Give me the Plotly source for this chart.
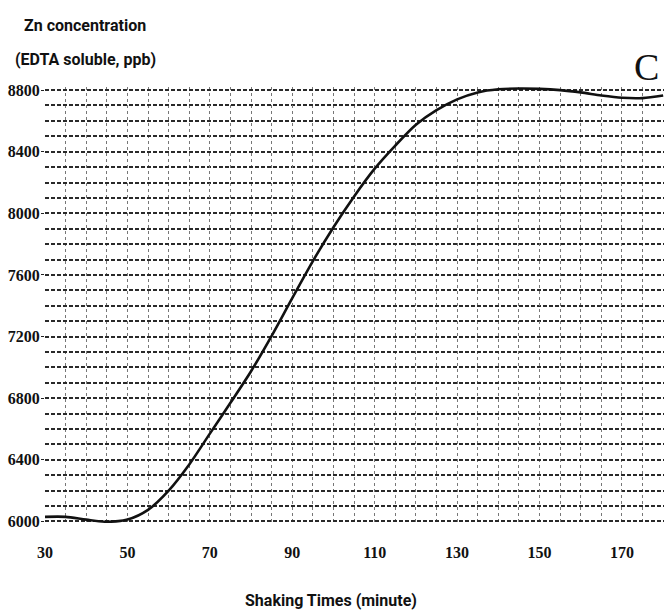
import plotly.graph_objects as go

# Data
shaking_time = [30, 35, 40, 45, 50, 55, 60, 65, 70, 75, 80, 85, 90, 95, 100,
                105, 110, 115, 120, 125, 130, 135, 140, 145, 150, 155, 160,
                165, 170, 175, 180]
zn_conc = [6030, 6030, 6012, 5998, 6012, 6075, 6200, 6370, 6570, 6770, 6975,
           7205, 7450, 7690, 7910, 8110, 8290, 8440, 8575, 8670, 8740, 8785,
           8805, 8810, 8808, 8800, 8785, 8765, 8750, 8748, 8765]
x_ticks = [30, 50, 70, 90, 110, 130, 150, 170]
y_ticks = [6000, 6400, 6800, 7200, 7600, 8000, 8400, 8800]

title_font = "Roboto, Liberation Sans, sans-serif"
tick_font = dict(family="Liberation Serif, Times New Roman, serif", size=16,
                 color="#111", weight="bold")

fig = go.Figure()
fig.add_trace(go.Scatter(
    x=shaking_time, y=zn_conc, mode="lines",
    line=dict(color="#111", width=2.6, shape="spline", smoothing=0.8),
    showlegend=False, hoverinfo="skip"))

fig.update_layout(
    width=664, height=615,
    paper_bgcolor="white", plot_bgcolor="white",
    margin=dict(l=45, r=0, t=87, b=92, autoexpand=False),
    showlegend=False,
    xaxis=dict(
        range=[30, 180.2], tickvals=x_ticks, ticktext=[str(v) for v in x_ticks],
        tickfont=tick_font, ticks="", ticklabelstandoff=18, automargin=False,
        showgrid=True, gridcolor="#777", gridwidth=1, griddash="3px,3px",
        minor=dict(dtick=5, tick0=30, showgrid=True, gridcolor="#777",
                   gridwidth=1, griddash="3px,3px"),
        zeroline=False, showline=False),
    yaxis=dict(
        range=[5990, 8820], tickvals=y_ticks, ticktext=[str(v) for v in y_ticks],
        tickfont=tick_font, ticks="outside", ticklen=3, tickcolor="#222",
        ticklabelstandoff=-2, automargin=False,
        showgrid=True, gridcolor="#2a2a2a", gridwidth=1.5, griddash="4px,2px",
        minor=dict(dtick=100, tick0=6000, showgrid=True, gridcolor="#2a2a2a",
                   gridwidth=1.5, griddash="4px,2px"),
        zeroline=False, showline=False),
    annotations=[
        dict(text="Zn concentration", xref="paper", yref="paper",
             x=-0.037, y=1.142, xanchor="left", yanchor="middle", showarrow=False,
             font=dict(family=title_font, size=16, color="#111", weight="bold")),
        dict(text="(EDTA soluble, ppb)", xref="paper", yref="paper",
             x=-0.052, y=1.062, xanchor="left", yanchor="middle", showarrow=False,
             font=dict(family=title_font, size=16, color="#111", weight="bold")),
        dict(text="Shaking Times (minute)", xref="paper", yref="paper",
             x=0.462, y=-0.177, xanchor="center", yanchor="middle", showarrow=False,
             font=dict(family=title_font, size=16, color="#111", weight="bold")),
        dict(text="C", xref="paper", yref="paper",
             x=0.995, y=1.046, xanchor="right", yanchor="middle", showarrow=False,
             font=dict(family="Liberation Serif, Times New Roman, serif", size=38,
                       color="#111")),
    ],
)

fig.write_html("out.html", config={"displayModeBar": False},
               post_script="document.body.style.margin='0';")
